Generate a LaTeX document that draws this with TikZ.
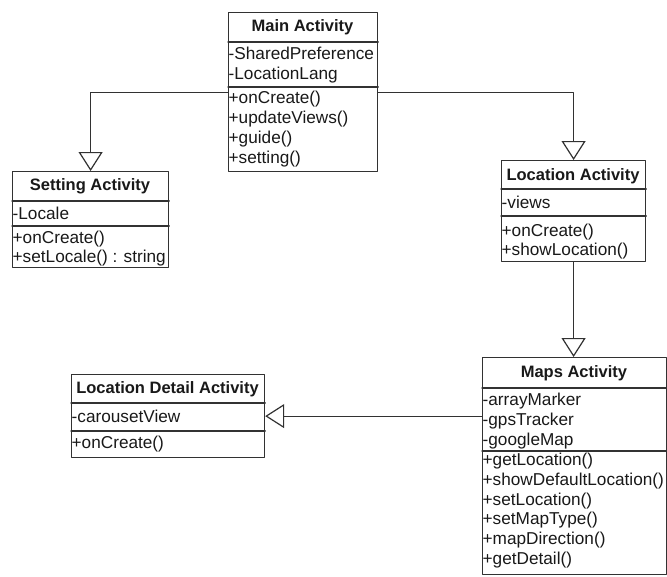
\documentclass[tikz,border=0pt]{standalone}
\usepackage{fontspec}
\setmainfont{Liberation Sans}
\usepackage{tikz}
\usetikzlibrary{positioning, arrows.meta}
\definecolor{umlline}{RGB}{50,50,50}
\definecolor{umltext}{RGB}{25,25,25}

\begin{document}
\begin{tikzpicture}[x=1pt, y=-1pt, line cap=round, line join=round,
    classbox/.style={draw=umlline, line width=1.2pt, fill=white, anchor=north west, inner sep=0pt},
    classtitle/.style={font=\fontsize{16.5}{20}\selectfont\bfseries, text=umltext, inner sep=0pt},
    classmember/.style={font=\fontsize{17.2}{19.8}\selectfont, text=umltext, align=left, anchor=west, inner sep=0pt},
    divider/.style={draw=umlline, line width=1.2pt},
    inherit/.style={draw=umlline, line width=1.2pt, -{Triangle[open, length=19pt, width=24pt]}}]
            \useasboundingbox (0,0) rectangle (667,576);
            % main activity
             \node[classbox, minimum width=149pt, minimum height=159pt] (main) at (228,12) {};
             \node[classtitle] (main-title) at (302.5,27.5) {Main Activity};
             \draw[divider] (main.west |- 0,42) -- (main.east |- 0,42);
             \draw[divider] (main.west |- 0,87) -- (main.east |- 0,87);
             \node[classmember] (main-attr) at (228.5,65) {-SharedPreference\\-LocationLang};
             \node[classmember] (main-ops) at (228.5,129) {+onCreate()\\+updateViews()\\+guide()\\+setting()};
            % setting activity
             \node[classbox, minimum width=156pt, minimum height=96pt] (setting) at (12,171) {};
             \node[classtitle] (setting-title) at (90,186) {Setting Activity};
             \draw[divider] (setting.west |- 0,201) -- (setting.east |- 0,201);
             \draw[divider] (setting.west |- 0,226) -- (setting.east |- 0,226);
             \node[classmember] (setting-attr) at (12.5,213) {-Locale};
             \node[classmember] (setting-ops) at (12.5,248.5) {+onCreate()\\+setLocale() : string};
            % location activity
             \node[classbox, minimum width=144pt, minimum height=101pt] (location) at (501,160) {};
             \node[classtitle] (location-title) at (573,176.5) {Location Activity};
             \draw[divider] (location.west |- 0,189) -- (location.east |- 0,189);
             \draw[divider] (location.west |- 0,216) -- (location.east |- 0,216);
             \node[classmember] (location-attr) at (501.5,202) {-views};
             \node[classmember] (location-ops) at (501.5,241.5) {+onCreate()\\+showLocation()};
            % maps activity
             \node[classbox, minimum width=184pt, minimum height=217pt] (maps) at (482,357) {};
             \node[classtitle] (maps-title) at (574,373.5) {Maps Activity};
             \draw[divider] (maps.west |- 0,388) -- (maps.east |- 0,388);
             \draw[divider] (maps.west |- 0,451) -- (maps.east |- 0,451);
             \node[classmember] (maps-attr) at (482.5,421) {-arrayMarker\\-gpsTracker\\-googleMap};
             \node[classmember] (maps-ops) at (482.5,510.5) {+getLocation()\\+showDefaultLocation()\\+setLocation()\\+setMapType()\\+mapDirection()\\+getDetail()};
            % location detail activity
             \node[classbox, minimum width=193pt, minimum height=83pt] (detail) at (71,374) {};
             \node[classtitle] (detail-title) at (167.5,389.5) {Location Detail Activity};
             \draw[divider] (detail.west |- 0,403) -- (detail.east |- 0,403);
             \draw[divider] (detail.west |- 0,431) -- (detail.east |- 0,431);
             \node[classmember] (detail-attr) at (71.5,416) {-carousetView};
             \node[classmember] (detail-ops) at (71.5,444) {+onCreate()};
            % generalisations
             \draw[inherit] (main.west) -| (setting.north);
             \draw[inherit] (main.east) -| (location.north);
             \draw[inherit] (location.south) -- (location.south |- maps.north);
             \draw[inherit] (maps.west |- detail.east) -- (detail.east);
     \end{tikzpicture}
\end{document}
